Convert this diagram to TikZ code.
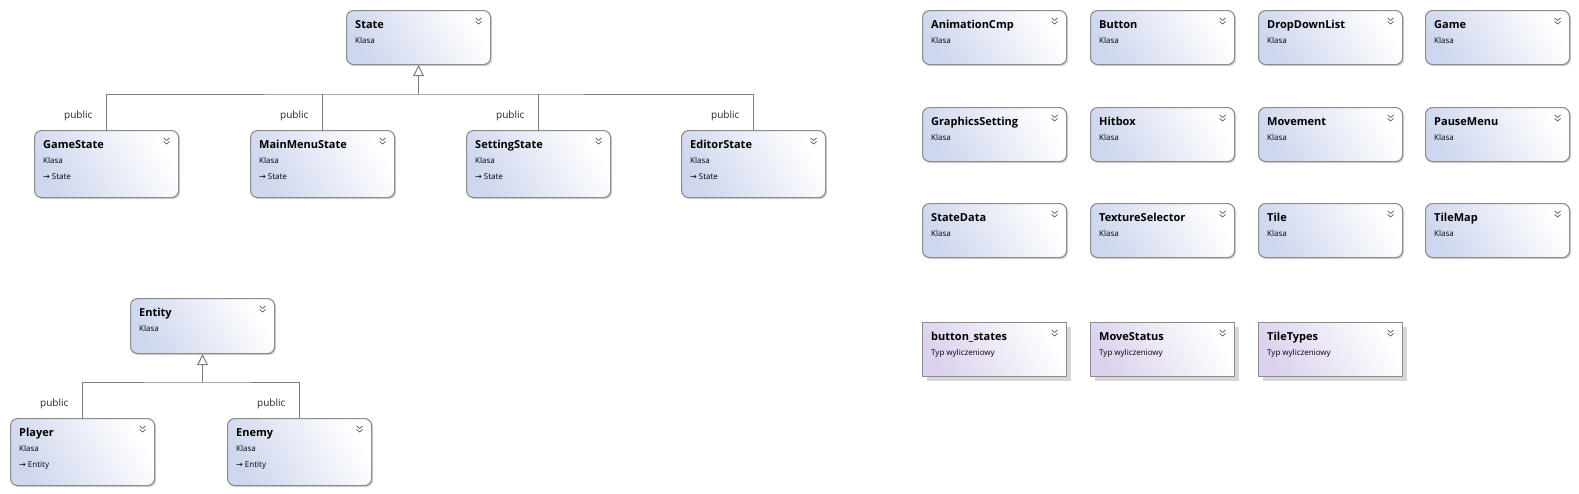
\documentclass[tikz,border=0pt]{standalone}
\usepackage{fontspec}
\setmainfont{Open Sans}
\newfontfamily\arrowfont{DejaVu Sans}
\usetikzlibrary{arrows.meta, positioning, calc, shadows}
\definecolor{boxblue}{RGB}{207,215,238}
\definecolor{enumlilac}{RGB}{220,210,237}
\definecolor{edgegray}{RGB}{140,140,140}
\definecolor{linegray}{RGB}{125,125,125}
\definecolor{chevgray}{RGB}{105,105,105}

\tikzset{
  clsbox/.style={draw=edgegray, line width=1.1pt, rounded corners=7pt, anchor=north west,
    minimum width=144pt, minimum height=#1, inner sep=0pt,
    top color=white, bottom color=boxblue, shading angle=-60,
    drop shadow={shadow xshift=1.5pt, shadow yshift=-1.5pt, fill=black!18, opacity=1}},
  clsbox/.default=54pt,
  enumbox/.style={draw=edgegray, line width=1.1pt, anchor=north west,
    minimum width=144pt, minimum height=54pt, inner sep=0pt,
    top color=white, bottom color=enumlilac, shading angle=-60,
    drop shadow={shadow xshift=4pt, shadow yshift=-4pt, fill=black!16, opacity=1}},
  clsname/.style={anchor=base west, inner sep=0pt, font=\bfseries\fontsize{11}{13}\selectfont},
  clskind/.style={anchor=base west, inner sep=0pt, font=\fontsize{8}{10}\selectfont},
  publbl/.style={anchor=base east, inner sep=0pt, font=\fontsize{10}{12}\selectfont, text=black!85},
  inherits/.style={draw=linegray, line width=1pt, -{Triangle[open, fill=white, length=11pt, width=11pt]}},
  branch/.style={draw=linegray, line width=1pt},
  chevron/.pic={\draw[chevgray, line width=0.8pt] (-3pt,2pt) -- (0pt,-0.5pt) -- (3pt,2pt)
    (-3pt,-1.5pt) -- (0pt,-4pt) -- (3pt,-1.5pt);}
}

\begin{document}
\begin{tikzpicture}[x=1pt, y=-1pt]
\useasboundingbox (0,0) rectangle (1579,493);

% State hierarchy
\node[clsbox] (state) at (346,10) {};
\node[clsbox=67pt] (gamestate) at (34,130) {};
\node[clsbox=67pt] (mainmenu) at (250,130) {};
\node[clsbox=67pt] (setting) at (466,130) {};
\node[clsbox=67pt] (editor) at (681,130) {};

% Entity hierarchy
\node[clsbox=55pt] (entity) at (130,298) {};
\node[clsbox=67pt] (player) at (10,418) {};
\node[clsbox=67pt] (enemy) at (227,418) {};

% other classes
\foreach \n/\x/\y in {animcmp/922/10, button/1090/10, dropdown/1258/10, game/1425/10,
    gfxsetting/922/107, hitbox/1090/107, movement/1258/107, pausemenu/1425/107,
    statedata/922/203, texselector/1090/203, tile/1258/203, tilemap/1425/203}
  \node[clsbox] (\n) at (\x,\y) {};

% enums
\node[enumbox] (btnstates) at (922,322) {};
\node[enumbox] (movestatus) at (1090,322) {};
\node[enumbox] (tiletypes) at (1258,322) {};

\foreach \n/\t in {state/State, gamestate/GameState, mainmenu/MainMenuState, setting/SettingState,
    editor/EditorState, entity/Entity, player/Player, enemy/Enemy,
    animcmp/AnimationCmp, button/Button, dropdown/DropDownList, game/Game,
    gfxsetting/GraphicsSetting, hitbox/Hitbox, movement/Movement, pausemenu/PauseMenu,
    statedata/StateData, texselector/TextureSelector, tile/Tile, tilemap/TileMap} {
  \node[clsname] (\n-name) at ([xshift=9pt, yshift=-18pt]\n.north west) {\t};
  \node[clskind] (\n-kind) at ([xshift=9pt, yshift=-33pt]\n.north west) {Klasa};
  \pic at ([xshift=-12.5pt, yshift=-10pt]\n.north east) {chevron};
}

\foreach \n/\t in {btnstates/button\_states, movestatus/MoveStatus, tiletypes/TileTypes} {
  \node[clsname] (\n-name) at ([xshift=9pt, yshift=-18pt]\n.north west) {\t};
  \node[clskind] (\n-kind) at ([xshift=9pt, yshift=-33pt]\n.north west) {Typ wyliczeniowy};
  \pic at ([xshift=-12.5pt, yshift=-10pt]\n.north east) {chevron};
}

\foreach \n/\b in {gamestate/State, mainmenu/State, setting/State, editor/State,
    player/Entity, enemy/Entity}
  \node[clskind] (\n-base) at ([xshift=9pt, yshift=-49pt]\n.north west) {{\arrowfont →}~\b};

% inheritance
\coordinate (statejoin) at (state.south |- 0,94);
\draw[inherits] (statejoin) -- (state.south);
\draw[branch] (gamestate.north) |- (statejoin) -| (editor.north);
\foreach \c in {mainmenu, setting}
  \draw[branch] (\c.north) -- (\c.north |- statejoin);

\coordinate (entityjoin) at (entity.south |- 0,382);
\draw[inherits] (entityjoin) -- (entity.south);
\draw[branch] (player.north) |- (entityjoin) -| (enemy.north);

\foreach \c in {gamestate, mainmenu, setting, editor, player, enemy}
  \node[publbl] (\c-pub) at ([xshift=-14pt, yshift=12pt]\c.north) {public};
\end{tikzpicture}
\end{document}
